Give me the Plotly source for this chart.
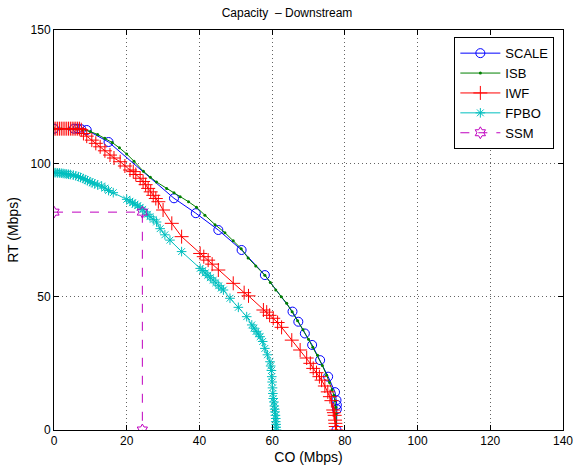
import plotly.graph_objects as go

# SCALE
scale_x = [0, 5.5, 6.5, 7.5, 9, 15, 33, 39, 45.2, 51.6, 58, 65.6, 67.2, 69, 71, 73.2, 75.4, 77.3, 77.7, 77.8, 77.8, 77.7]
scale_y = [113, 113, 113, 112.8, 112.5, 108, 86.9, 81.3, 75, 67.5, 58.1, 44.4, 40.6, 36.2, 31.9, 26.2, 20, 14.2, 11.2, 9.4, 7.8, 0]

# ISB
isb_x = [0, 2, 4, 6, 8, 10, 12, 14, 16, 18, 20, 22, 24.6, 26.5, 28.2, 31, 33, 34.7, 37, 39.2, 41.5, 44.3, 47, 49.3, 51.5, 53.4,
         55.5, 58, 59.5, 61, 62.5, 64, 65.5, 67, 68.5, 70, 71.2, 72.5, 73.8, 75, 75.8, 76.5, 77, 77.3, 77.5, 77.6, 77.7]
isb_y = [113, 113, 113, 113, 112.7, 111.9, 110.8, 109.4, 107.8, 105.8, 103.5, 100.8, 97, 94.8, 93, 90.6, 89, 87.5, 85.6, 83.5, 80.5, 77, 74, 71, 68, 64.5,
         61.5, 58, 55.3, 52.5, 50, 47.5, 44.3, 41, 37.6, 34, 31, 28, 24.2, 20.5, 17.8, 15, 13, 11, 8.5, 6, 0]

# IWF
iwf_x = [0, 0.5, 1, 1.5, 2, 2.5, 3, 3.5, 4, 4.5, 5, 5.5, 6, 6.5, 7, 7.5, 8.1, 9, 10.4, 11.5, 12.7, 14, 15.4, 16.5, 18.2, 19.5, 20.9,
         21.8, 22.5, 23.7, 24.5, 25.2, 25.9, 26.6, 27.3, 28, 28.7, 30, 32.4, 35.1, 40.2, 41.2, 42.4, 43.5, 45.2, 49.3, 52.3, 53.5,
         57.6, 58.5, 59.3, 60.3, 61.5, 62.6, 65.4, 67.7, 69.5, 70.5, 71.3, 72.2, 73, 73.6, 74.5, 75.3, 75.9, 76.3, 76.8, 77, 77.2,
         77.3, 77.4, 77.5, 77.6]
iwf_y = [113, 113, 113, 113, 113, 113, 113, 113, 113, 113, 113, 113, 113, 113, 113, 112.6, 111.2, 110.2, 108.7, 107.5, 106.2, 104.7, 103.1, 102, 100.6, 99, 97.5,
         96.9, 95.8, 94.4, 93.2, 92, 90.6, 89.3, 88, 86.8, 85.6, 82.5, 77.5, 72.5, 66.2, 65, 63.7, 62.2, 60, 55, 51.5, 50.3,
         45, 44.2, 43, 41.9, 40.3, 38.5, 33.7, 30, 27, 25, 23.1, 21.5, 20, 18.7, 16.5, 14.3, 12.5, 11, 7.5, 6.5, 5.5,
         3.7, 2.5, 1.3, 0]

# FPBO
fpbo_x = [0, 0.5, 1, 1.5, 2, 2.5, 3, 3.5, 4, 4.5, 5.3, 6, 6.7, 7.3, 8, 8.6, 9.2, 9.9, 10.5, 11.2, 12, 13.1, 14, 15, 16.3, 20,
          20.9, 21.6, 22.3, 23, 23.7, 24.4, 25, 25.7, 26.4, 27.3, 28.2, 29.2, 30.5, 31.9, 35.1, 40.2, 40.9, 41.6, 42.3, 43, 43.8,
          44.5, 45.3, 46, 46.6, 48.4, 50.7, 53, 54.4, 55, 55.6, 56.2, 56.7, 57.4, 58, 58.7, 59.4, 59.6, 59.8, 59.9, 60, 60.1, 60.2,
          60.3, 60.5, 60.6, 60.7, 60.8, 60.9, 61, 61, 61.1, 61.1, 61.2]
fpbo_y = [96.5, 96.5, 96.4, 96.4, 96.3, 96.2, 96.1, 96, 95.9, 95.8, 95.6, 95.3, 95, 94.7, 94.3, 93.9, 93.5, 93.1, 92.7, 92.3, 91.9, 91.5, 90.7, 89.8, 89, 86.5,
          85.8, 85.2, 84.7, 84.1, 83.5, 82.7, 81.8, 80.9, 80, 79, 78, 75.5, 73.2, 71.2, 66.9, 60.6, 59.8, 58.9, 58, 57.1, 56.2,
          55.2, 54.1, 53.2, 52.5, 49.4, 46, 42.5, 39.4, 38.2, 37, 36, 35, 33.2, 30.6, 28.2, 25.6, 24, 22.3, 20, 18, 15.8, 13.7,
          11.8, 10.5, 9, 7.8, 6.8, 5.5, 4.3, 3.1, 2.1, 1, 0]

# SSM
ssm_x = [0, 24.3, 24.3]
ssm_y = [81.7, 81.7, 0]

series = [
    ("SCALE", scale_x, scale_y, "rgb(0,0,255)", dict(symbol="circle-open", size=9, line=dict(width=1)), "solid"),
    ("ISB", isb_x, isb_y, "rgb(0,128,0)", dict(symbol="circle", size=3), "solid"),
    ("IWF", iwf_x, iwf_y, "rgb(255,0,0)", dict(symbol="cross-thin-open", size=10, line=dict(width=1, color="rgb(255,0,0)")), "solid"),
    ("FPBO", fpbo_x, fpbo_y, "rgb(0,191,191)", dict(symbol="asterisk-open", size=8, line=dict(width=1, color="rgb(0,191,191)")), "solid"),
    ("SSM", ssm_x, ssm_y, "rgb(191,0,191)", dict(symbol="hexagram-open", size=9, line=dict(width=1, color="rgb(191,0,191)")), "dash"),
]

fig = go.Figure()
for name, xs, ys, col, mk, dash in series:
    fig.add_trace(go.Scatter(
        x=xs, y=ys, name=name, mode="lines+markers",
        line=dict(color=col, width=1, dash=dash),
        marker=dict(color=col, **mk),
    ))

axis_common = dict(
    showline=True, linecolor="black", linewidth=1, mirror="ticks",
    ticks="inside", ticklen=5, tickcolor="black",
    showgrid=True, gridcolor="rgb(100,100,100)", griddash="1px,3px", gridwidth=1,
    zeroline=False, tickfont=dict(size=12, color="black"), automargin=False,
)

fig.update_layout(
    width=574, height=468,
    margin=dict(l=54, r=11, t=30, b=38),
    paper_bgcolor="white", plot_bgcolor="white",
    font=dict(family="Liberation Sans, Arial, sans-serif", size=12, color="black"),
    title=dict(text="Capacity  – Downstream", x=0.5, xanchor="center", y=0.972, yanchor="middle",
               font=dict(size=12)),
    xaxis=dict(range=[0, 140], dtick=20, title=dict(text="CO (Mbps)", standoff=4), **axis_common),
    yaxis=dict(range=[0, 150], dtick=50, title=dict(text="RT (Mbps)", standoff=8), **axis_common),
    legend=dict(x=0.983, y=0.982, xanchor="right", yanchor="top", bgcolor="white",
                bordercolor="black", borderwidth=1, font=dict(size=13), tracegroupgap=0,
                itemwidth=40),
    showlegend=True,
)

fig.write_html("out.html", config={"displayModeBar": False},
               post_script="document.body.style.margin='0';document.body.style.overflow='hidden';")
